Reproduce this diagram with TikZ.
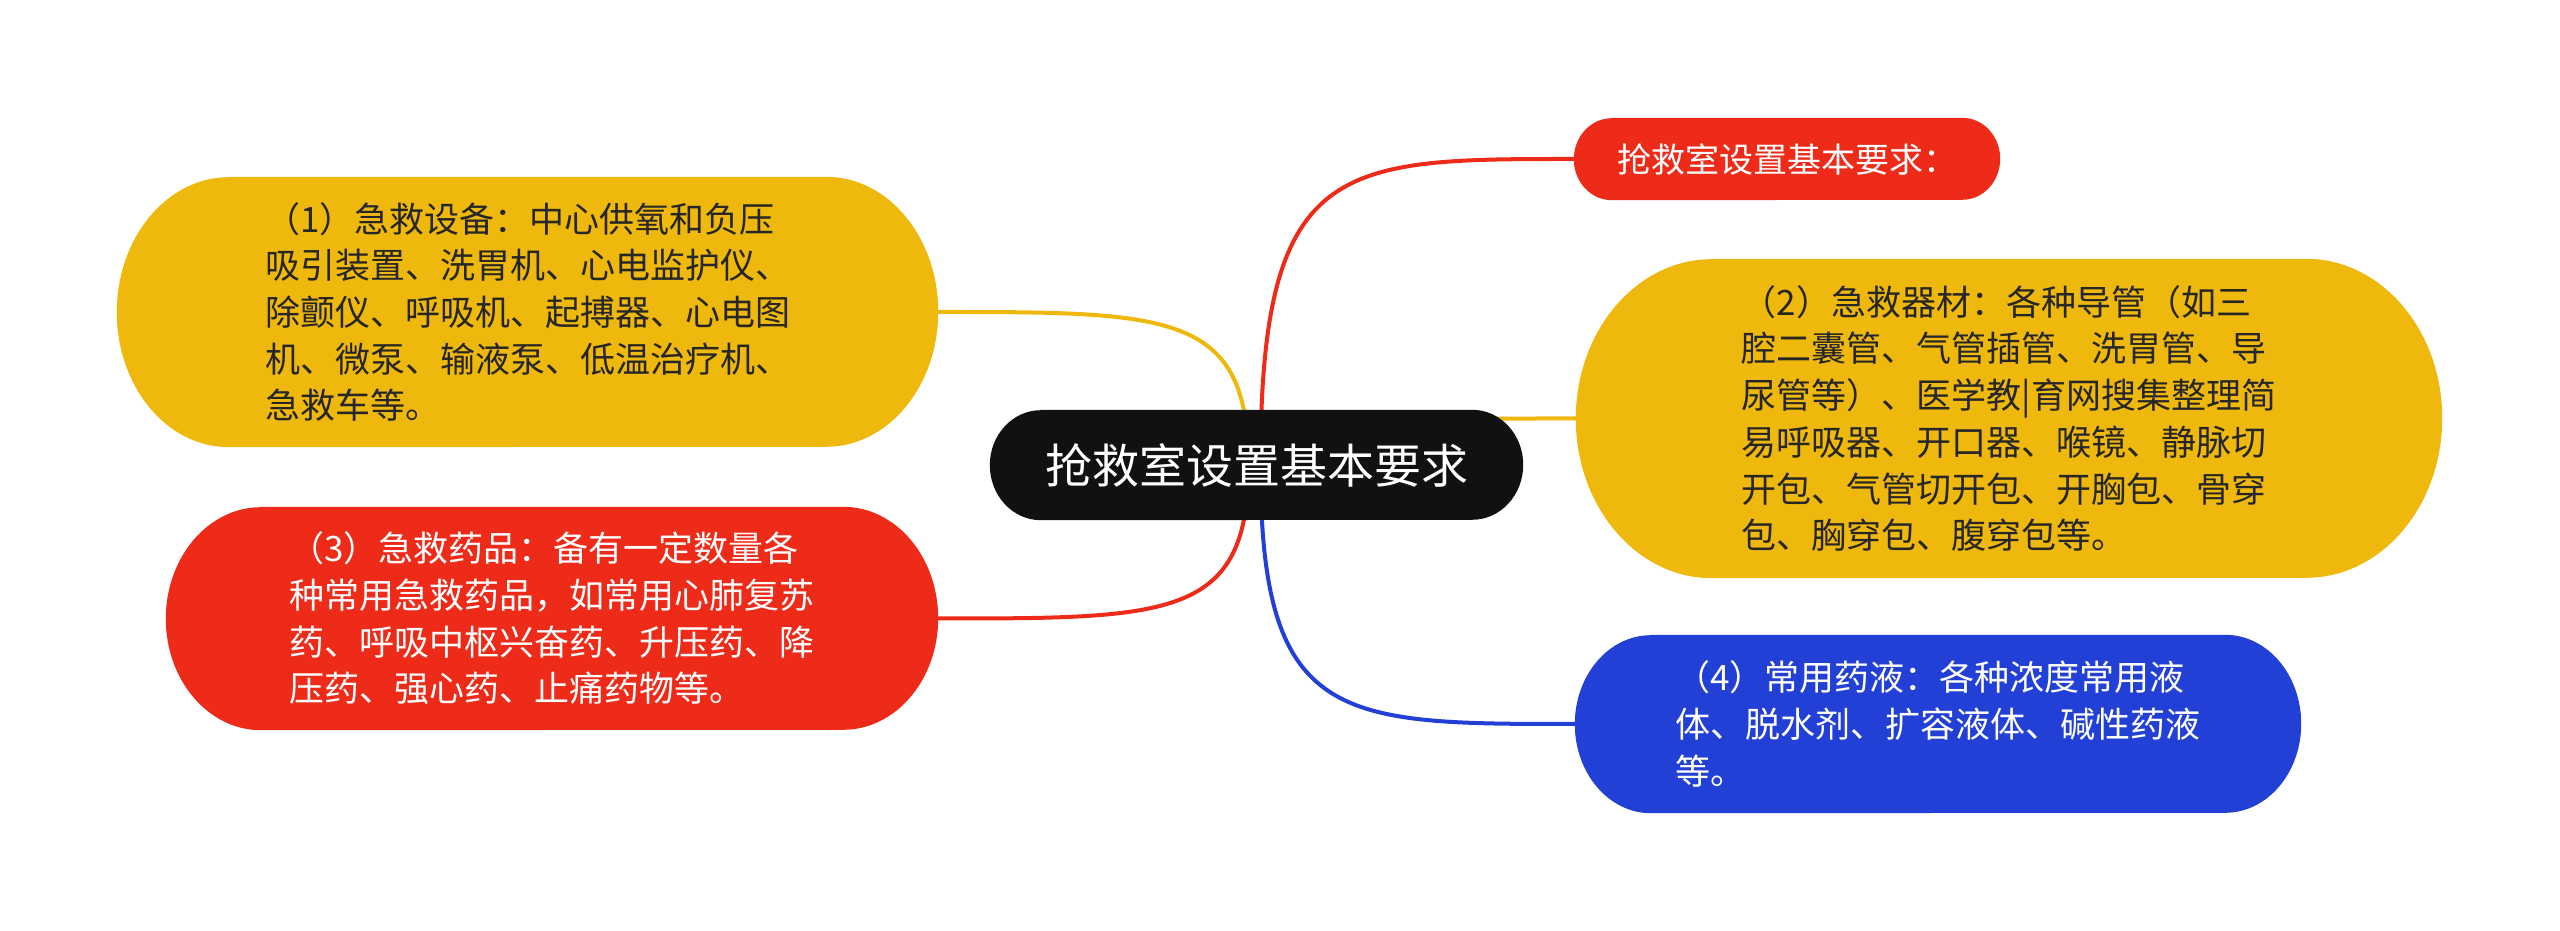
\documentclass[tikz,border=0pt]{standalone}
\usepackage{fontspec}
\setmainfont{Noto Sans CJK SC}
\usetikzlibrary{calc}
\definecolor{myyellow}{HTML}{EFB80C}
\definecolor{myred}{HTML}{EE2A19}
\definecolor{myblue}{HTML}{2340D6}
\definecolor{myblack}{HTML}{111111}
\definecolor{darktext}{HTML}{262626}
\pgfdeclarelayer{bg}
\pgfdeclarelayer{edges}
\pgfdeclarelayer{shapes}
\pgfsetlayers{bg,edges,shapes,main}
% #1 node name, #2 colour, #3 x radius, #4 y radius (= half height)
\newcommand\blobshape[4]{%
  \fill[#2] ($(#1.north west)+(#3,0)$) -- ($(#1.north east)+(-#3,0)$)
    arc[start angle=90,end angle=-90,x radius=#3,y radius=#4]
    -- ($(#1.south west)+(#3,0)$)
    arc[start angle=270,end angle=90,x radius=#3,y radius=#4] -- cycle;}
\newcommand\branchline[3]{%
  \draw[branchstyle,#1] (#2) .. controls (#2 |- #3) and ($(#2 |- #3)!0.25!(#3)$) .. (#3);}
\begin{document}
\begin{tikzpicture}[x=1pt,y=1pt,
  branchstyle/.style={line width=4pt},
  txt/.style={inner sep=0pt,align=left,font=\fontsize{35}{46.7}\selectfont},
  darkt/.style={txt,text=darktext},
  whitet/.style={txt,text=white}]
\begin{pgfonlayer}{bg}
\fill[white] (0,0) rectangle (2560,931);
\end{pgfonlayer}
\useasboundingbox (0,0) rectangle (2560,931);

\node[inner sep=0pt,minimum width=533,minimum height=110,text=white,
  font=\fontsize{47}{56}\selectfont] (root) at (1256.5,466) {抢救室设置基本要求};

\node[whitet,minimum width=426,minimum height=82,font=\fontsize{34}{40}\selectfont]
  (n0) at (1787,772) {抢救室设置基本要求：};

\node[darkt,minimum width=866,minimum height=319] (n2) at (2009,512.5)
{（2）急救器材：各种导管（如三\\
腔二囊管、气管插管、洗胃管、导\\
尿管等）、医学教|育网搜集整理简\\
易呼吸器、开口器、喉镜、静脉切\\
开包、气管切开包、开胸包、骨穿\\
包、胸穿包、腹穿包等。};

\node[whitet,minimum width=726,minimum height=178] (n4) at (1938,207)
{（4）常用药液：各种浓度常用液\\
体、脱水剂、扩容液体、碱性药液\\
等。};

\node[darkt,minimum width=821,minimum height=270] (n1) at (527.5,619)
{（1）急救设备：中心供氧和负压\\
吸引装置、洗胃机、心电监护仪、\\
除颤仪、呼吸机、起搏器、心电图\\
机、微泵、输液泵、低温治疗机、\\
急救车等。};

\node[whitet,minimum width=772,minimum height=223] (n3) at (552,312.5)
{（3）急救药品：备有一定数量各\\
种常用急救药品，如常用心肺复苏\\
药、呼吸中枢兴奋药、升压药、降\\
压药、强心药、止痛药物等。};

\coordinate (rootL) at ($(root.center)+(-8,0)$);
\coordinate (rootR) at ($(root.center)+(4,0)$);

\begin{pgfonlayer}{edges}
  \branchline{myred}{rootR}{n0.west}
  \branchline{myyellow}{rootR}{n2.west}
  \branchline{myblue}{rootR}{n4.west}
  \branchline{myyellow}{rootL}{n1.east}
  \branchline{myred}{rootL}{n3.east}
\end{pgfonlayer}

\begin{pgfonlayer}{shapes}
  \blobshape{root}{myblack}{51}{55}
  \blobshape{n0}{myred}{38}{41}
  \blobshape{n2}{myyellow}{136}{159.5}
  \blobshape{n4}{myblue}{76}{89}
  \blobshape{n1}{myyellow}{112}{135}
  \blobshape{n3}{myred}{95}{111.5}
\end{pgfonlayer}
\end{tikzpicture}
\end{document}
